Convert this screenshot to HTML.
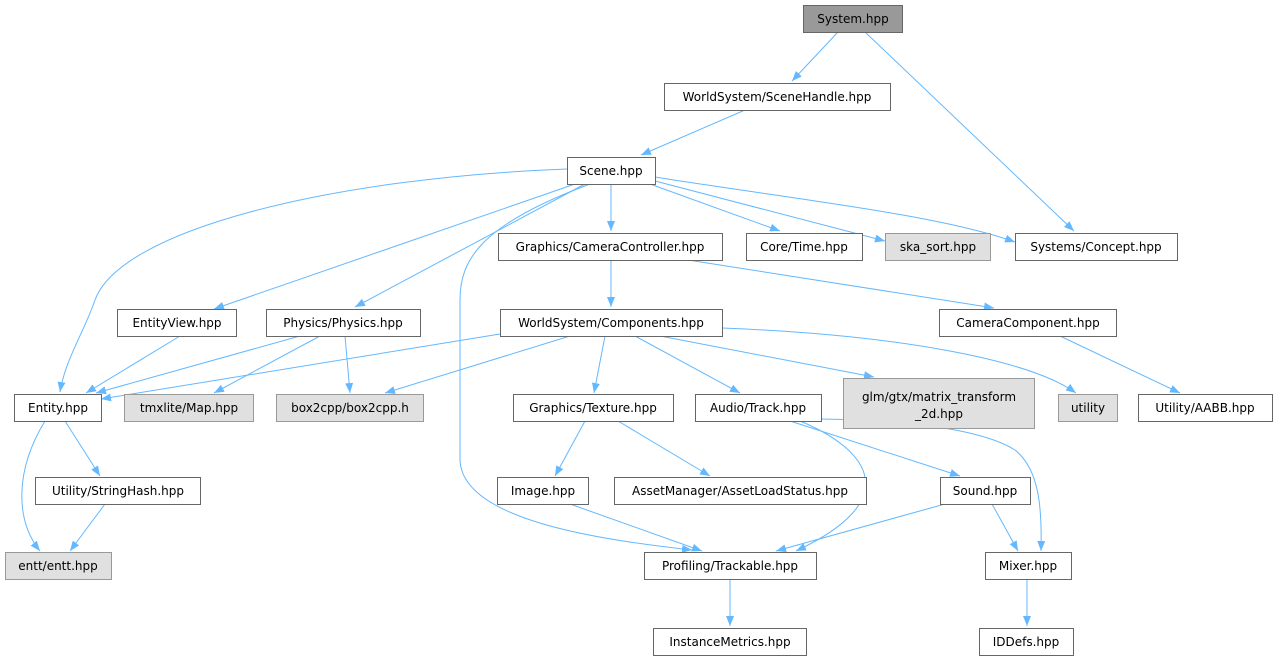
<!DOCTYPE html>
<html><head><meta charset="utf-8"><style>
html,body{margin:0;padding:0;background:#fff;}
svg{display:block;}
text{font-family:"DejaVu Sans","Liberation Sans",sans-serif;font-size:12px;fill:#000;}
.n{fill:#fff;stroke:#666;stroke-width:1;}
.g{fill:#e0e0e0;stroke:#999;stroke-width:1;}
.r{fill:#999;stroke:#666;stroke-width:1;}
.e{fill:none;stroke:#63b8ff;stroke-width:1;}
</style></head><body>
<svg width="1277" height="661" viewBox="0 0 1277 661" xmlns="http://www.w3.org/2000/svg">
<defs><marker id="a" markerWidth="10" markerHeight="8" refX="10" refY="4" orient="auto" markerUnits="userSpaceOnUse"><path d="M0,0 L10,4 L0,8 z" fill="#63b8ff"/></marker></defs>
<g marker-end="url(#a)">
<path class="e" d="M838,32 L792,81"/>
<path class="e" d="M865,32 L1074,231"/>
<path class="e" d="M745,110 L641,155"/>
<path class="e" d="M611,184 L611,231"/>
<path class="e" d="M650,184 L780,231"/>
<path class="e" d="M655,181 L885,241"/>
<path class="e" d="M655,177 C800,200 940,215 1015,242"/>
<path class="e" d="M567,169 C330,178 120,230 95,300 C85,330 65,360 60,392"/>
<path class="e" d="M575,184 L214,309"/>
<path class="e" d="M585,184 L355,307"/>
<path class="e" d="M590,184 C480,225 460,260 460,300 L460,460 C462,520 600,540 692,550"/>
<path class="e" d="M611,260 L611,307"/>
<path class="e" d="M688,260 L994,308"/>
<path class="e" d="M180,336 L86,393"/>
<path class="e" d="M300,336 L96,393"/>
<path class="e" d="M320,336 L214,393"/>
<path class="e" d="M345,336 L350,393"/>
<path class="e" d="M500,334 L101,399"/>
<path class="e" d="M570,336 L385,393"/>
<path class="e" d="M605,336 L594,393"/>
<path class="e" d="M635,336 L740,393"/>
<path class="e" d="M660,336 L874,377"/>
<path class="e" d="M722,328 C900,335 1030,360 1076,393"/>
<path class="e" d="M1060,336 L1180,393"/>
<path class="e" d="M65,421 L100,476"/>
<path class="e" d="M45,421 C15,470 15,520 40,551"/>
<path class="e" d="M105,504 L70,551"/>
<path class="e" d="M585,421 L555,476"/>
<path class="e" d="M618,421 L710,476"/>
<path class="e" d="M790,421 L960,476"/>
<path class="e" d="M800,421 C870,450 905,500 796,551"/>
<path class="e" d="M821,419 C900,420 980,428 1015,450 C1040,470 1042,510 1041,551"/>
<path class="e" d="M570,504 L702,551"/>
<path class="e" d="M945,504 L776,551"/>
<path class="e" d="M992,504 L1018,551"/>
<path class="e" d="M730,579 L730,626"/>
<path class="e" d="M1027,579 L1027,626"/>
</g>
<g text-anchor="middle">
<rect class="r" x="803.5" y="5.5" width="99" height="27"/><text x="853" y="23">System.hpp</text>
<rect class="n" x="664.5" y="83.5" width="226" height="27"/><text x="777" y="101">WorldSystem/SceneHandle.hpp</text>
<rect class="n" x="567.5" y="157.5" width="88" height="27"/><text x="611" y="175">Scene.hpp</text>
<rect class="n" x="498.5" y="233.5" width="224" height="27"/><text x="610" y="251">Graphics/CameraController.hpp</text>
<rect class="n" x="746.5" y="233.5" width="116" height="27"/><text x="804" y="251">Core/Time.hpp</text>
<rect class="g" x="885.5" y="233.5" width="105" height="27"/><text x="938" y="251">ska_sort.hpp</text>
<rect class="n" x="1015.5" y="233.5" width="162" height="27"/><text x="1096" y="251">Systems/Concept.hpp</text>
<rect class="n" x="117.5" y="309.5" width="119" height="27"/><text x="177" y="327">EntityView.hpp</text>
<rect class="n" x="266.5" y="309.5" width="154" height="27"/><text x="343" y="327">Physics/Physics.hpp</text>
<rect class="n" x="500.5" y="309.5" width="222" height="27"/><text x="611" y="327">WorldSystem/Components.hpp</text>
<rect class="n" x="939.5" y="309.5" width="177" height="27"/><text x="1028" y="327">CameraComponent.hpp</text>
<rect class="n" x="14.5" y="394.5" width="87" height="27"/><text x="58" y="412">Entity.hpp</text>
<rect class="g" x="124.5" y="394.5" width="129" height="27"/><text x="189" y="412">tmxlite/Map.hpp</text>
<rect class="g" x="276.5" y="394.5" width="147" height="27"/><text x="350" y="412">box2cpp/box2cpp.h</text>
<rect class="n" x="513.5" y="394.5" width="160" height="27"/><text x="593" y="412">Graphics/Texture.hpp</text>
<rect class="n" x="695.5" y="394.5" width="126" height="27"/><text x="758" y="412">Audio/Track.hpp</text>
<rect class="g" x="843.5" y="378.5" width="191" height="50"/><text x="939" y="401">glm/gtx/matrix_transform</text><text x="939" y="418">_2d.hpp</text>
<rect class="g" x="1058.5" y="394.5" width="59" height="27"/><text x="1088" y="412">utility</text>
<rect class="n" x="1138.5" y="394.5" width="134" height="27"/><text x="1205" y="412">Utility/AABB.hpp</text>
<rect class="n" x="35.5" y="477.5" width="165" height="27"/><text x="118" y="495">Utility/StringHash.hpp</text>
<rect class="n" x="497.5" y="477.5" width="91" height="27"/><text x="543" y="495">Image.hpp</text>
<rect class="n" x="614.5" y="477.5" width="252" height="27"/><text x="740" y="495">AssetManager/AssetLoadStatus.hpp</text>
<rect class="n" x="940.5" y="477.5" width="90" height="27"/><text x="985" y="495">Sound.hpp</text>
<rect class="g" x="5.5" y="552.5" width="106" height="27"/><text x="58" y="570">entt/entt.hpp</text>
<rect class="n" x="644.5" y="552.5" width="172" height="27"/><text x="730" y="570">Profiling/Trackable.hpp</text>
<rect class="n" x="985.5" y="552.5" width="86" height="27"/><text x="1028" y="570">Mixer.hpp</text>
<rect class="n" x="653.5" y="628.5" width="153" height="27"/><text x="730" y="646">InstanceMetrics.hpp</text>
<rect class="n" x="979.5" y="628.5" width="94" height="27"/><text x="1026" y="646">IDDefs.hpp</text>
</g>
</svg>
</body></html>
